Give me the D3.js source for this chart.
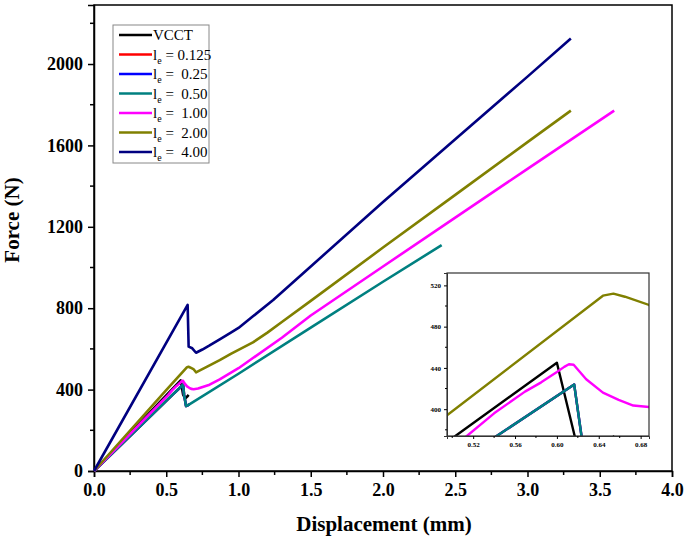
<!DOCTYPE html>
<html><head><meta charset="utf-8">
<script src="https://cdn.jsdelivr.net/npm/d3@7"></script>
<style>body{margin:0;background:#fff}</style>
</head><body>
<script>
// ---- data ----
const seriesNames = ["VCCT", "0.125", "0.25", "0.50", "1.00", "2.00", "4.00"];
const seriesColors = ["#000000", "#ff0000", "#0000ff", "#008080", "#ff00ff", "#808000", "#000080"];
const vcct = [[0,0],[0.503,374],[0.60,445],[0.617,374],[0.632,357],[0.645,366],[0.655,374]];
const le0125 = [[0,0],[0.5425,374],[0.6165,424],[0.6235,374],[0.637,319],[0.66,327]];
const le025 = [[0,0],[0.5425,374],[0.6165,424],[0.6235,374],[0.637,319],[0.66,327]];
const le050 = [[0,0],[0.5425,374],[0.6165,424],[0.6235,374],[0.637,319],[0.66,327],[1.0,478],[1.5,705],[2.0,930],[2.406,1110]];
const le100 = [[0,0],[0.514,374],[0.54,396],[0.5695,417],[0.585,426],[0.60,436],[0.607,441],[0.6115,443.5],[0.616,443],[0.628,429],[0.644,416],[0.659,409],[0.673,403.5],[0.69,402],[0.72,405],[0.8,424],[0.87,450],[1.0,505],[1.1,555],[1.3,655],[1.5,764],[2.0,1005],[2.5,1245],[3.0,1485],[3.6,1771]];
const le200 = [[0,0],[0.495,394],[0.644,510],[0.654,512],[0.665,509],[0.688,501],[0.706,485],[0.78,512],[0.87,545],[0.95,577],[1.1,632],[1.2,680],[1.3,732],[1.5,836],[2.0,1098],[2.5,1357],[3.0,1616],[3.3,1771]];
const le400 = [[0,0],[0.648,816],[0.655,611],[0.68,603],[0.706,581],[0.75,597],[0.8,617],[0.87,647],[0.95,681],[1.0,703],[1.1,760],[1.24,840],[1.5,1005],[2.0,1322],[2.5,1630],[3.0,1938],[3.3,2125]];
const allSeries = [vcct, le0125, le025, le050, le100, le200, le400];
const xTicks = [0, 0.5, 1.0, 1.5, 2.0, 2.5, 3.0, 3.5, 4.0];
const yTicks = [0, 400, 800, 1200, 1600, 2000];
const insetXTicks = [0.52, 0.56, 0.60, 0.64, 0.68];
const insetYTicks = [400, 440, 480, 520];

// ---- chart ----
const W = 685, H = 542;
const svg = d3.select("body").append("svg").attr("width", W).attr("height", H)
  .style("font-family", "'Liberation Serif','Times New Roman',serif");

const x = d3.scaleLinear().domain([0, 4]).range([94, 672]);
const y = d3.scaleLinear().domain([0, 2290]).range([471, 5]);

const line = d3.line().x(d => x(d[0])).y(d => y(d[1]));

// frame
svg.append("rect").attr("x", 94).attr("y", 5).attr("width", 578).attr("height", 466)
  .attr("fill", "none").attr("stroke", "#000").attr("stroke-width", 1.5);

// axes
const xAxis = d3.axisBottom(x).tickValues(xTicks).tickFormat(d3.format(".1f")).tickSize(6).tickPadding(6);
const gx = svg.append("g").attr("transform", "translate(0,471)").call(xAxis);
const yAxis = d3.axisLeft(y).tickValues(yTicks).tickFormat(d3.format("d")).tickSize(6).tickPadding(5);
const gy = svg.append("g").attr("transform", "translate(94,0)").call(yAxis);
// minor ticks
const xMinor = d3.range(0.25, 4, 0.5);
gx.selectAll(".minor").data(xMinor).enter().append("line")
  .attr("x1", d => x(d)).attr("x2", d => x(d)).attr("y1", 0).attr("y2", 4).attr("stroke", "#000").attr("stroke-width", 1.5);
const yMinor = d3.range(200, 2290, 400);
gy.selectAll(".minor").data(yMinor).enter().append("line")
  .attr("y1", d => y(d)).attr("y2", d => y(d)).attr("x1", 0).attr("x2", -4).attr("stroke", "#000").attr("stroke-width", 1.5);
[gx, gy].forEach(g => {
  g.select(".domain").attr("stroke-width", 1.5);
  g.selectAll(".tick line").attr("stroke-width", 1.5);
  g.selectAll("text").attr("font-family", "'Liberation Serif',serif").attr("font-weight", "bold").attr("font-size", 18).attr("fill", "#000");
});

// titles
svg.append("text").attr("x", 384).attr("y", 531).attr("text-anchor", "middle")
  .attr("font-weight", "bold").attr("font-size", 21).text("Displacement (mm)");
svg.append("text").attr("transform", "translate(19,220) rotate(-90)").attr("text-anchor", "middle")
  .attr("font-weight", "bold").attr("font-size", 21).text("Force (N)");

// series
const gLines = svg.append("g");
allSeries.forEach((s, i) => {
  gLines.append("path").datum(s).attr("d", line).attr("fill", "none")
    .attr("stroke", seriesColors[i]).attr("stroke-width", 2.6).attr("stroke-linejoin", "round");
});

// legend
const lg = svg.append("g");
lg.append("rect").attr("x", 113).attr("y", 25).attr("width", 96).attr("height", 138)
  .attr("fill", "#fff").attr("stroke", "#888").attr("stroke-width", 1);
seriesNames.forEach((n, i) => {
  const yy = 35 + i * 19.5;
  lg.append("line").attr("x1", 119).attr("x2", 152).attr("y1", yy).attr("y2", yy)
    .attr("stroke", seriesColors[i]).attr("stroke-width", 2.6);
  const t = lg.append("text").attr("x", 153).attr("y", yy + 5).attr("font-size", 15).attr("fill", "#000");
  if (i === 0) { t.text(n); }
  else {
    t.append("tspan").text("l");
    t.append("tspan").attr("font-size", 10).attr("dy", 4).text("e");
    t.append("tspan").attr("dy", -4).text(n.length > 4 ? " = " + n : " =\u00a0 " + n);
  }
});

// inset
const ix = d3.scaleLinear().domain([0.495, 0.688]).range([447, 649]);
const iy = d3.scaleLinear().domain([374, 532]).range([436, 273]);
const iline = d3.line().x(d => ix(d[0])).y(d => iy(d[1]));
const ig = svg.append("g");
ig.append("rect").attr("x", 447).attr("y", 273).attr("width", 202).attr("height", 163).attr("fill", "#fff");
svg.append("defs").append("clipPath").attr("id", "iclip").append("rect")
  .attr("x", 447).attr("y", 273).attr("width", 202).attr("height", 163);
const igl = ig.append("g").attr("clip-path", "url(#iclip)");
allSeries.forEach((s, i) => {
  igl.append("path").datum(s).attr("d", iline).attr("fill", "none")
    .attr("stroke", seriesColors[i]).attr("stroke-width", 2.4).attr("stroke-linejoin", "round");
});
ig.append("rect").attr("x", 447).attr("y", 273).attr("width", 202).attr("height", 163)
  .attr("fill", "none").attr("stroke", "#333").attr("stroke-width", 1.2);
const igx = ig.append("g").attr("transform", "translate(0,436)")
  .call(d3.axisBottom(ix).tickValues(insetXTicks).tickFormat(d3.format(".2f")).tickSize(3).tickPadding(3));
const igy = ig.append("g").attr("transform", "translate(447,0)")
  .call(d3.axisLeft(iy).tickValues(insetYTicks).tickFormat(d3.format("d")).tickSize(3).tickPadding(3));
igx.selectAll(".minor").data([0.50, 0.54, 0.58, 0.62, 0.66]).enter().append("line")
  .attr("x1", d => ix(d)).attr("x2", d => ix(d)).attr("y1", 0).attr("y2", 2).attr("stroke", "#000");
igy.selectAll(".minor").data([380, 420, 460, 500]).enter().append("line")
  .attr("y1", d => iy(d)).attr("y2", d => iy(d)).attr("x1", 0).attr("x2", -2).attr("stroke", "#000");
[igx, igy].forEach(g => {
  g.select(".domain").attr("stroke", "#333");
  g.selectAll("text").attr("font-family", "'Liberation Serif',serif").attr("font-weight", "bold").attr("font-size", 7).attr("fill", "#000");
});
</script>
</body></html>
